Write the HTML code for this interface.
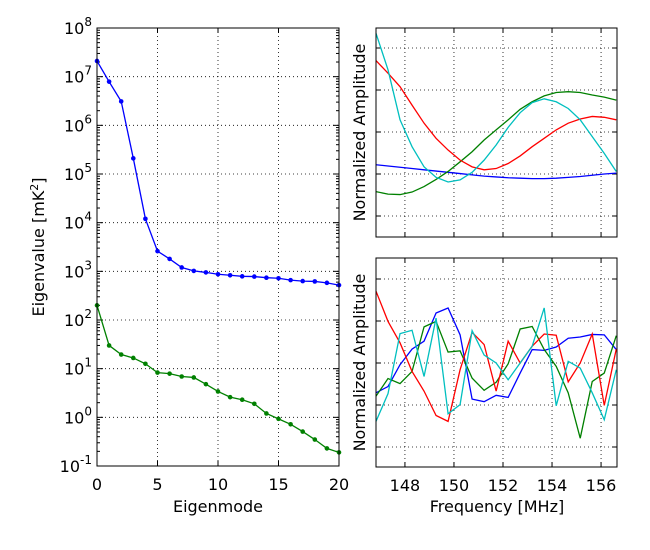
<!DOCTYPE html>
<html><head><meta charset="utf-8"><style>
html,body{margin:0;padding:0;background:#fff;}
svg{display:block;font-family:"DejaVu Sans","Liberation Sans",sans-serif;}
</style></head><body>
<svg id="c" width="650" height="550" viewBox="0 0 650 550"></svg>
<script>
const modes=[0,1,2,3,4,5,6,7,8,9,10,11,12,13,14,15,16,17,18,19,20];
const eigBlue=[2.1e7,7.9e6,3.1e6,2.1e5,1.2e4,2600,1800,1200,1020,950,870,830,790,780,740,720,660,630,620,580,520];
const eigGreen=[200,30,19.5,16.6,12.6,8.3,7.9,6.9,6.6,4.8,3.4,2.6,2.3,1.9,1.2,0.93,0.72,0.51,0.35,0.23,0.19];
const xTicksL=[0,5,10,15,20];
const yDecades=[-1,0,1,2,3,4,5,6,7,8];
const freqs=[146.82,147.31,147.80,148.29,148.78,149.27,149.76,150.25,150.74,151.23,151.72,152.21,152.70,153.19,153.68,154.17,154.66,155.15,155.64,156.13,156.62];
const topBlue=[-0.78,-0.81,-0.84,-0.87,-0.90,-0.93,-0.96,-0.99,-1.02,-1.05,-1.07,-1.09,-1.10,-1.11,-1.11,-1.10,-1.08,-1.06,-1.03,-1.00,-0.98];
const topGreen=[-1.42,-1.48,-1.49,-1.43,-1.30,-1.13,-0.94,-0.71,-0.47,-0.19,0.05,0.29,0.54,0.72,0.86,0.94,0.96,0.94,0.88,0.83,0.76];
const topRed=[1.70,1.40,1.08,0.64,0.21,-0.15,-0.43,-0.67,-0.83,-0.90,-0.87,-0.75,-0.57,-0.35,-0.15,0.05,0.21,0.31,0.37,0.35,0.29];
const topCyan=[2.35,1.48,0.29,-0.35,-0.83,-1.08,-1.19,-1.14,-0.96,-0.67,-0.31,0.11,0.46,0.70,0.79,0.72,0.56,0.29,-0.11,-0.51,-0.94];
const botBlue=[-0.71,-0.56,-0.04,0.33,0.52,1.19,1.31,0.67,-0.86,-0.92,-0.77,-0.82,-0.24,0.32,0.30,0.38,0.59,0.62,0.68,0.67,0.32];
const botRed=[1.71,0.99,0.48,-0.20,-0.67,-1.25,-1.39,-0.16,0.73,0.44,-0.67,0.52,0,0.40,0.69,0.66,-0.45,0,0.69,-1.01,0.33];
const botGreen=[-0.79,-0.37,-0.49,-0.20,0.86,0.99,0.26,0.29,-0.36,-0.65,-0.46,-0.02,0.81,0.87,0.32,-0.08,-0.71,-1.79,-0.44,-0.24,0.65];
const botCyan=[-1.39,-0.73,0.70,0.78,-0.32,1.07,-1.21,-0.99,0.77,0.19,0,-0.40,0,0.40,1.31,-1.02,0.04,-0.12,-0.71,-1.35,-0.16];
const freqTicks=[148,150,152,154,156];
const ampTicks=[-2,-1,0,1,2];

const NS="http://www.w3.org/2000/svg";
const svg=document.getElementById('c');
function mk(tag,attrs,parent){const e=document.createElementNS(NS,tag);for(const k in attrs)e.setAttribute(k,attrs[k]);(parent||svg).appendChild(e);return e;}

const L={x0:97,x1:339,y0:28,y1:466};
const lx=v=>L.x0+(v-0)/(20-0)*(L.x1-L.x0);
const ly=v=>L.y1-(Math.log10(v)-(-1))/9*(L.y1-L.y0);
const gL=mk('g',{});


xTicksL.forEach(t=>{
  const x=lx(t);
  if(t>0&&t<20){const g=mk('line',{x1:x,x2:x,y1:L.y0,y2:L.y1,stroke:'#000','stroke-width':0.8,'stroke-dasharray':'1,3'},gL);}
  mk('line',{x1:x,x2:x,y1:L.y1,y2:L.y1-5,stroke:'#000'},gL);
  mk('line',{x1:x,x2:x,y1:L.y0,y2:L.y0+5,stroke:'#000'},gL);
  const tx=mk('text',{x:x,y:L.y1+24,'text-anchor':'middle','font-size':16},gL);tx.textContent=t;
  
});
yDecades.forEach(d=>{
  const y=ly(Math.pow(10,d));
  if(d>-1&&d<8){const g=mk('line',{x1:L.x0,x2:L.x1,y1:y,y2:y,stroke:'#000','stroke-width':0.8,'stroke-dasharray':'1,3'},gL);}
  mk('line',{x1:L.x0,x2:L.x0+6,y1:y,y2:y,stroke:'#000'},gL);
  mk('line',{x1:L.x1,x2:L.x1-6,y1:y,y2:y,stroke:'#000'},gL);
  if(d<8){for(let m=2;m<10;m++){const ym=ly(m*Math.pow(10,d));mk('line',{x1:L.x0,x2:L.x0+3,y1:ym,y2:ym,stroke:'#000'},gL);mk('line',{x1:L.x1,x2:L.x1-3,y1:ym,y2:ym,stroke:'#000'},gL);}}
  const tx=mk('text',{x:L.x0-5,y:y+6,'text-anchor':'end','font-size':16},gL);
  
  tx.innerHTML='10<tspan dy="-8" font-size="12">'+d+'</tspan>';
});
function seriesL(vals,col,name){
  const pts=modes.map((m,i)=>lx(m)+','+ly(vals[i])).join(' ');
  const p=mk('polyline',{points:pts,fill:'none',stroke:col,'stroke-width':1.3},gL);
  
  modes.forEach((m,i)=>{const c=mk('circle',{cx:lx(m),cy:ly(vals[i]),r:2.3,fill:col},gL);
    });
}
seriesL(eigBlue,'#0000ff','eigen-blue');
seriesL(eigGreen,'#008000','eigen-green');
const bL=mk('rect',{x:L.x0,y:L.y0,width:L.x1-L.x0,height:L.y1-L.y0,fill:'none',stroke:'#000','stroke-width':1},gL);

let t=mk('text',{x:218,y:512,'text-anchor':'middle','font-size':16});t.textContent='Eigenmode';

t=mk('text',{x:44,y:247,'text-anchor':'middle','font-size':16,transform:'rotate(-90 44 247)'});
t.innerHTML='Eigenvalue [mK<tspan dy="-6" font-size="11">2</tspan><tspan dy="6">]</tspan>';


function panel(y0,y1,dmin,dmax,series,name,xlabels){
  const P={x0:376,x1:617,y0:y0,y1:y1};
  const fx=v=>P.x0+(v-146.82)/(156.65-146.82)*(P.x1-P.x0);
  const fy=v=>P.y1-(v-dmin)/(dmax-dmin)*(P.y1-P.y0);
  const g=mk('g',{});
  
  freqTicks.forEach(f=>{const x=fx(f);
    mk('line',{x1:x,x2:x,y1:P.y0,y2:P.y1,stroke:'#000','stroke-width':0.8,'stroke-dasharray':'1,3'},g);
    mk('line',{x1:x,x2:x,y1:P.y1,y2:P.y1-5,stroke:'#000'},g);
    mk('line',{x1:x,x2:x,y1:P.y0,y2:P.y0+5,stroke:'#000'},g);
    if(xlabels){const tx=mk('text',{x:x,y:P.y1+24,'text-anchor':'middle','font-size':16},g);tx.textContent=f;
      }
  });
  ampTicks.forEach(a=>{const y=fy(a);
    mk('line',{x1:P.x0,x2:P.x1,y1:y,y2:y,stroke:'#000','stroke-width':0.8,'stroke-dasharray':'1,3'},g);
    mk('line',{x1:P.x0,x2:P.x0+5,y1:y,y2:y,stroke:'#000'},g);
    mk('line',{x1:P.x1,x2:P.x1-5,y1:y,y2:y,stroke:'#000'},g);
  });
  series.forEach(s=>{
    const pts=freqs.map((f,i)=>fx(f)+','+fy(s[0][i])).join(' ');
    const p=mk('polyline',{points:pts,fill:'none',stroke:s[1],'stroke-width':1.3},g);
    
  });
  const b=mk('rect',{x:P.x0,y:P.y0,width:P.x1-P.x0,height:P.y1-P.y0,fill:'none',stroke:'#000','stroke-width':1},g);
  
  const cy=(P.y0+P.y1)/2;
  const tx=mk('text',{x:365,y:cy,'text-anchor':'middle','font-size':16,transform:'rotate(-90 365 '+cy+')'},g);
  tx.textContent='Normalized Amplitude';
  
}
panel(28,237,-2.5,2.476,[[topBlue,'#0000ff','mode-1-line'],[topGreen,'#008000','mode-2-line'],[topRed,'#ff0000','mode-3-line'],[topCyan,'#00bfbf','mode-4-line']],'top-mode-plot',false);
panel(258,467,-2.476,2.5,[[botBlue,'#0000ff','mode-1-line'],[botGreen,'#008000','mode-2-line'],[botRed,'#ff0000','mode-3-line'],[botCyan,'#00bfbf','mode-4-line']],'bottom-mode-plot',true);
t=mk('text',{x:497,y:512,'text-anchor':'middle','font-size':16});t.textContent='Frequency [MHz]';

</script>
</body></html>
